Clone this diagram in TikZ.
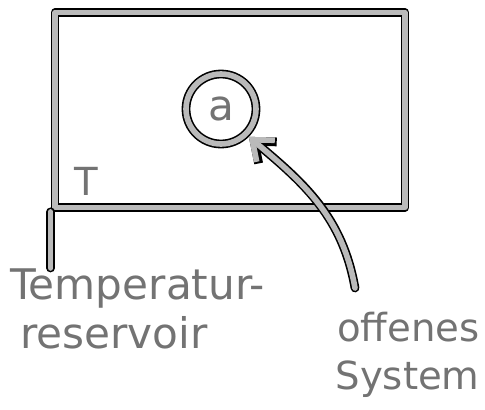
\documentclass[tikz,border=0pt]{standalone}
\usepackage{fontspec}
\setsansfont{DejaVu Sans}
\usetikzlibrary{arrows.meta,positioning,calc}

\begin{document}
\begin{tikzpicture}[x=0.02cm, y=-0.02cm,
    stroke/.style={draw=black, line width=5pt, line cap=round, line join=round,
        postaction={draw=black!27, line width=3.2pt}},
    sketch/.style={font=\sffamily\fontsize{24}{28}\selectfont, text=black!55, inner sep=0pt},
    arr/.style={stroke, -{Straight Barb[length=10pt, width=16pt]}}
]
\useasboundingbox (0,0) rectangle (485,410);
\node[stroke, minimum width=7cm, minimum height=3.9cm] (sys) at (230,110) {};
\node[stroke, circle, minimum size=1.4cm, sketch] (a) at (221,109) {a};
\node[sketch, font=\sffamily\fontsize{22}{24}\selectfont, anchor=south west] (T) at (74,196) {T};
\node[sketch, align=left, anchor=north west] (res) at (10,268) {Temperatur-\\\hspace{0.2cm}reservoir};
\node[sketch, font=\sffamily\fontsize{22}{27}\selectfont, align=right, anchor=north east] (off) at (480,312) {offenes\\System};
\coordinate (offtip) at (355,288);

\draw[stroke] (sys.south west) -- (sys.south west |- res.north);
\draw[arr] (offtip) to[out=100, in=-40] (a.south east);
\end{tikzpicture}
\end{document}
